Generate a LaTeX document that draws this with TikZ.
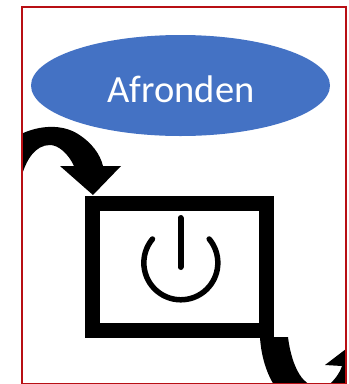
\documentclass[tikz,border=0pt]{standalone}
\usepackage{fontspec}
\setmainfont{Carlito}
\usetikzlibrary{shapes.geometric}
\definecolor{bred}{HTML}{B80F14}
\definecolor{bblue}{HTML}{4472C4}
\tikzstyle{frameblock} = [rectangle, draw=bred, line width=2pt, minimum width=324pt, minimum height=377pt, inner sep=0pt, outer sep=0pt]
\tikzstyle{startblock} = [ellipse, fill=bblue, text=white, minimum width=299pt, minimum height=101pt, inner sep=0pt, font=\fontsize{38.5}{38.5}\selectfont]
\tikzstyle{rectblock} = [rectangle, draw, line width=15pt, minimum width=174pt, minimum height=127pt, inner sep=0pt]
\tikzstyle{arrowshape} = [fill=black]
\tikzstyle{powerline} = [draw, line cap=round]
\begin{document}
\begin{tikzpicture}[x=1pt, y=-1pt]
    \useasboundingbox (0, 0) rectangle (349, 384);
    % frame and title
    \node[startblock] at (180.5, 85.5) (afronden) {};
    \node[text=white, font=\fontsize{38.5}{38.5}\selectfont] at (181, 89) (title) {Afronden};
    \node[rectblock] at (179.5, 266.5) (power) {};

    % arrow in
    \begin{scope}
    \clip (22, 6) rectangle (345.5, 383);
    \path[arrowshape] (21, 134) .. controls (40, 125) and (62, 124) .. (78, 134) .. controls (92, 143) and (100, 154) .. (103, 166)
        -- (121, 166) -- (93, 195) -- (60, 166) -- (74, 166) .. controls (68, 153) and (58, 145) .. (50, 145) .. controls (35, 145) and (26, 160) .. (21, 178) -- cycle;

    % arrow out
    \path[arrowshape] (260, 337) .. controls (261, 355) and (266, 372) .. (274, 385) -- (311, 385) .. controls (300, 381) and (291, 362) .. (288, 337) -- cycle;
    \path[arrowshape] (329, 385) .. controls (335, 379) and (340, 373) .. (342, 366) -- (325, 365) -- (346, 349) -- (346, 385) -- cycle;
    \end{scope}

    % power symbol
    \path[powerline, line width=6pt] (180.5, 218) to (180.5, 267);
    \path[powerline, line width=5.5pt] (152.5, 239) arc[start angle=-140, end angle=-400, radius=37];

    \node[frameblock] at (183.5, 195) (frame) {};
\end{tikzpicture}
\end{document}
